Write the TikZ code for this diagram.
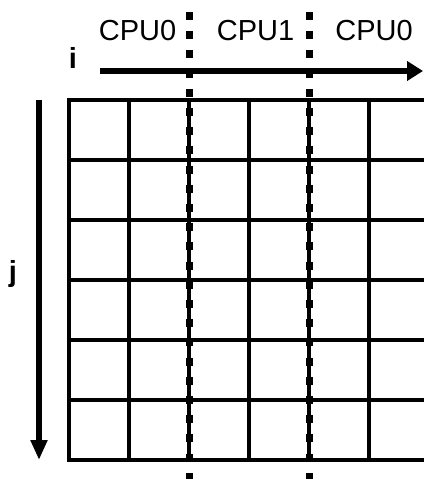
\documentclass[tikz,border=0pt]{standalone}
\usepackage{fontspec}
\setmainfont{Liberation Sans}
\usetikzlibrary{arrows.meta}
\begin{document}
\begin{tikzpicture}[x=1bp,y=-1bp,
  gridline/.style={line width=3.5bp},
  haxis/.style={line width=6bp,-{Triangle[length=16bp,width=19bp]}},
  vaxis/.style={line width=6bp,-{Triangle[length=20bp,width=16bp]}},
  cut/.style={line width=7bp,dash pattern=on 8bp off 11.2bp},
  lbl/.style={font=\fontsize{29bp}{31bp}\selectfont,inner sep=0pt,anchor=base},
  lblb/.style={font=\fontsize{29bp}{31bp}\selectfont\bfseries,inner sep=0pt,anchor=base},
  ]
\useasboundingbox (0,0) rectangle (423,479);
% grid
\foreach \k in {0,...,6} \draw[gridline] (67.25,100+60*\k) -- (432,100+60*\k);
\foreach \k in {0,...,6} \draw[gridline] (69+60*\k,100) -- (69+60*\k,460);
% axes
\coordinate (ia) at (100,71);
\coordinate (ib) at (423,71);
\draw[haxis] (ia) -- (ib);
\coordinate (ja) at (39,100);
\coordinate (jb) at (39,460);
\draw[vaxis] (ja) -- (jb);
% cuts
\coordinate (c0t) at (189,12);
\coordinate (c0b) at (189,485);
\coordinate (c1t) at (309,12);
\coordinate (c1b) at (309,485);
\draw[cut] (c0t) -- (c0b);
\draw[cut] (c1t) -- (c1b);
% labels
\node[lbl] (cpuA) at (137.5,41) {CPU0};
\node[lbl] (cpuB) at (255.5,41) {CPU1};
\node[lbl] (cpuC) at (374,41) {CPU0};
\node[lblb] (ilab) at (73,69) {i};
\node[lblb] (jlab) at (13,281) {j};
\end{tikzpicture}
\end{document}
